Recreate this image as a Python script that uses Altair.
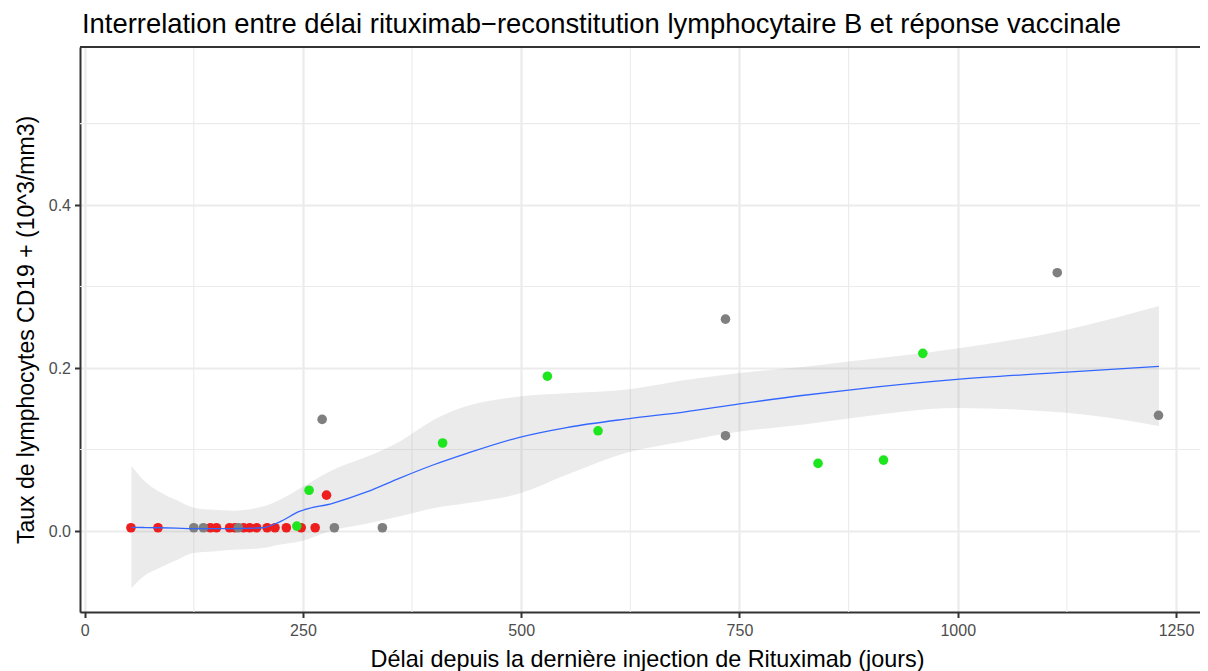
import altair as alt
import pandas as pd

FONT = "Liberation Sans"

# ---- points ----
red_x = [53, 84, 144, 151, 166, 172, 182, 189, 197, 209, 218, 231, 248, 264, 277]
red_y = [0.004, 0.004, 0.004, 0.004, 0.004, 0.004, 0.004, 0.004, 0.004, 0.004,
         0.004, 0.004, 0.004, 0.004, 0.044]
gray_x = [125, 136, 176, 286, 341, 272, 734, 734, 1114, 1230]
gray_y = [0.004, 0.004, 0.004, 0.004, 0.004, 0.137, 0.260, 0.117, 0.317, 0.142]
green_x = [243, 257, 410, 530, 588, 840, 915, 960]
green_y = [0.006, 0.050, 0.108, 0.190, 0.123, 0.083, 0.087, 0.218]

# ---- smoother (fit and confidence band) ----
sm_x = [53.5, 67, 86, 105, 124, 147, 170, 204, 223, 246, 284, 323, 361, 399,
        437, 498, 552, 624, 686, 750, 819, 875, 999, 1125, 1230.5]
sm_fit = [0.0045, 0.0043, 0.004, 0.0035, 0.003, 0.003, 0.003, 0.004, 0.011,
          0.024, 0.034, 0.048, 0.065, 0.081, 0.095, 0.115, 0.127, 0.138, 0.146,
          0.156, 0.166, 0.173, 0.186, 0.195, 0.202]
sm_hi = [0.080, 0.063, 0.048, 0.038, 0.029, 0.026, 0.025, 0.030, 0.038, 0.052,
         0.075, 0.091, 0.110, 0.136, 0.153, 0.165, 0.169, 0.174, 0.185, 0.194,
         0.201, 0.208, 0.224, 0.247, 0.276]
sm_lo = [-0.070, -0.056, -0.045, -0.036, -0.027, -0.025, -0.023, -0.021, -0.017,
         -0.013, 0.001, 0.009, 0.018, 0.028, 0.034, 0.046, 0.069, 0.097, 0.110,
         0.122, 0.130, 0.138, 0.151, 0.145, 0.129]

x_major = [0, 250, 500, 750, 1000, 1250]
x_minor = [125, 375, 625, 875, 1125]
y_major = [0.0, 0.2, 0.4]
y_minor = [0.1, 0.3, 0.5]

groups = ["rouge", "gris", "vert"]
group_colors = ["#EE1E1E", "#7F7F7F", "#1EE61E"]

TITLE = "Interrelation entre délai rituximab\u2212reconstitution lymphocytaire B et réponse vaccinale"

pts = pd.DataFrame({
    "x": red_x + gray_x + green_x,
    "y": red_y + gray_y + green_y,
    "g": ["rouge"] * len(red_x) + ["gris"] * len(gray_x) + ["vert"] * len(green_x),
})
smooth = pd.DataFrame({"x": sm_x, "fit": sm_fit, "lo": sm_lo, "hi": sm_hi})

W, H = 1120, 565
xscale = alt.Scale(domain=[-5.35, 1277.5], nice=False, zero=False)
yscale = alt.Scale(domain=[-0.0994, 0.594], nice=False, zero=False)

xaxis = alt.Axis(values=x_major, format="d", grid=True, gridColor="#EBEBEB",
                 gridWidth=2.2, tickColor="#333333", tickSize=5.5, tickWidth=2,
                 labelFontSize=16, labelColor="#4D4D4D", labelFont=FONT,
                 labelPadding=5, labelFlush=False,
                 domainColor="#333333", domainWidth=2,
                 title="Délai depuis la dernière injection de Rituximab (jours)",
                 titleFont=FONT, titleFontSize=23.4, titleFontWeight="normal",
                 titleColor="black", titleX=567, titleY=54.7,
                 titleBaseline="alphabetic", titleAlign="center")
yaxis = alt.Axis(values=y_major, format=".1f", grid=True, gridColor="#EBEBEB",
                 gridWidth=2.2, tickColor="#333333", tickSize=5.5, tickWidth=2,
                 labelFontSize=16, labelColor="#4D4D4D", labelFont=FONT,
                 labelPadding=4, labelFlush=False,
                 domainColor="#333333", domainWidth=2,
                 title="Taux de lymphocytes CD19 + (10^3/mm3)",
                 titleFont=FONT, titleFontSize=23, titleFontWeight="normal",
                 titleColor="black", titleX=-47, titleY=282.5, titleAngle=270,
                 titleBaseline="alphabetic", titleAlign="center")

minor_x = alt.Chart(pd.DataFrame({"v": x_minor})).mark_rule(
    color="#EBEBEB", strokeWidth=1.1).encode(
    x=alt.X("v:Q", scale=xscale, axis=xaxis))
minor_y = alt.Chart(pd.DataFrame({"v": y_minor})).mark_rule(
    color="#EBEBEB", strokeWidth=1.1).encode(
    y=alt.Y("v:Q", scale=yscale, axis=yaxis))

band = alt.Chart(smooth).mark_area(color="#999999", opacity=0.2,
                                   interpolate="monotone").encode(
    x=alt.X("x:Q", scale=xscale, axis=xaxis),
    y=alt.Y("lo:Q", scale=yscale, axis=yaxis),
    y2="hi:Q")

points = alt.Chart(pts).mark_circle(size=92, opacity=1).encode(
    x=alt.X("x:Q", scale=xscale, axis=xaxis),
    y=alt.Y("y:Q", scale=yscale, axis=yaxis),
    color=alt.Color("g:N", scale=alt.Scale(domain=groups, range=group_colors),
                    legend=None))

line = alt.Chart(smooth).mark_line(color="#3366FF", strokeWidth=1.3,
                                   interpolate="monotone").encode(
    x=alt.X("x:Q", scale=xscale, axis=xaxis),
    y=alt.Y("fit:Q", scale=yscale, axis=yaxis))

top_border = alt.Chart(pd.DataFrame({"k": [0]})).mark_rule(
    color="#333333", strokeWidth=2).encode(
    x=alt.value(0), x2=alt.value(W + 10), y=alt.value(0))

title_text = alt.Chart(pd.DataFrame({"t": [TITLE]})).mark_text(
    align="left", baseline="alphabetic", font=FONT, fontSize=27.4,
    color="black").encode(
    text="t:N", x=alt.value(2), y=alt.value(-14))

chart = alt.layer(minor_x, minor_y, band, points, line, top_border,
                  title_text).properties(
    width=W, height=H,
    padding={"left": 72, "top": 39, "right": 0, "bottom": 59},
    autosize=alt.AutoSizeParams(type="none"),
).configure_view(stroke="transparent", strokeWidth=0).configure(background="white")

chart.save("out.html", embed_options={"renderer": "svg", "actions": False})
